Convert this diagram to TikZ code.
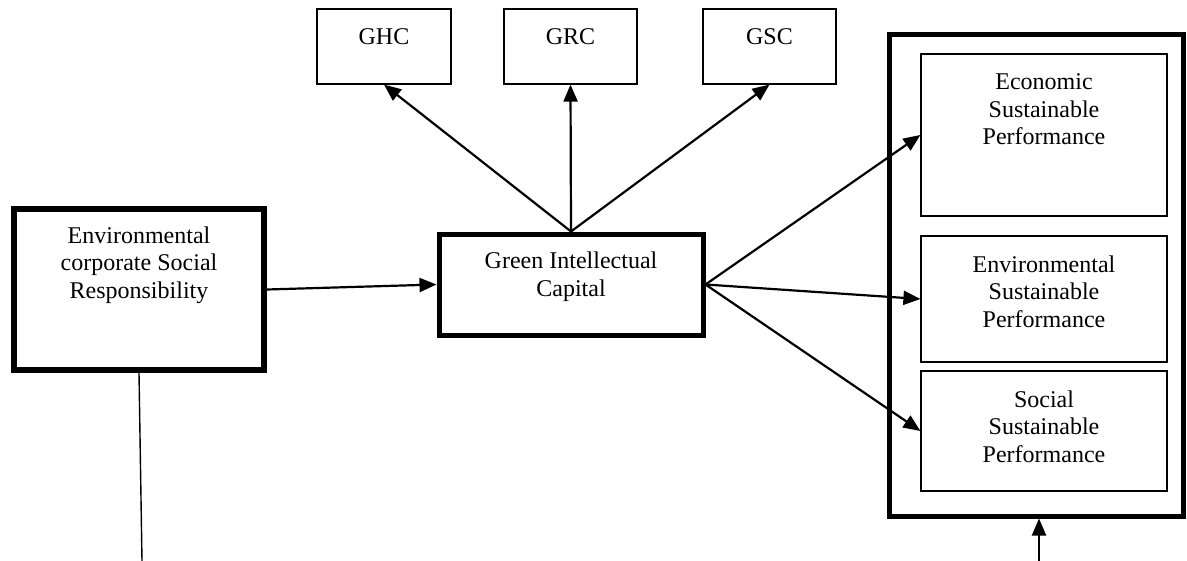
\documentclass[tikz,border=0pt]{standalone}
\usepackage{fontspec}
\setmainfont{Liberation Serif}
\usetikzlibrary{arrows.meta}

\tikzset{
  txt/.style={align=center, inner sep=0pt, anchor=north, yshift=-10pt,
    font=\fontsize{12}{13.75}\selectfont},
  box/.style={draw, line width=0.6pt, inner sep=0pt, label={[txt]north:#1}},
  heavybox/.style={box=#1, line width=2.5pt},
  link/.style={->, line width=1.1pt},
}

\begin{document}
\begin{tikzpicture}[>={Triangle[length=8.5pt,width=7pt]}, x=0.5pt, y=-0.5pt]
  \useasboundingbox[fill=white] (0,0) rectangle (1187,561);

  % linke Seite
  \node (esr) [heavybox={Environmental\\corporate Social\\Responsibility}, line width=3pt,
    minimum width=125pt, minimum height=80.5pt] at (139,289.5) {};
  \node (gic) [heavybox={Green Intellectual\\Capital},
    minimum width=132pt, minimum height=50.5pt] at (571,284.5) {};

  % Dimensionen oben
  \node (ghc) [box=GHC, minimum width=67pt, minimum height=37.5pt] at (384,46.5) {};
  \node (grc) [box=GRC, minimum width=66.5pt, minimum height=37.5pt] at (570.5,46.5) {};
  \node (gsc) [box=GSC, minimum width=66.5pt, minimum height=37.5pt] at (769.5,46.5) {};

  % Performance rechts
  \node (perf) [draw, line width=2.5pt, minimum width=147pt, minimum height=240.5pt] at (1036,275.5) {};
  \node (eco) [box={Economic\\Sustainable\\Performance}, minimum width=123pt, minimum height=81pt] at (1044,135) {};
  \node (env) [box={Environmental\\Sustainable\\Performance}, minimum width=123pt, minimum height=63pt] at (1044,299) {};
  \node (soc) [box={Social\\Sustainable\\Performance}, minimum width=123pt, minimum height=60pt] at (1044,431) {};

  % Pfeile
  \draw[link] (esr.east) -- (gic.west);
  \foreach \d in {ghc,grc,gsc}
    \draw[link] (gic.north) -- (\d.south);
  \foreach \d in {eco,env,soc}
    \draw[link] (gic.east) -- (\d.west);

  % Linien nach unten
  \coordinate (lowA) at (142,561);
  \coordinate (lowB) at (1039,561);
  \draw[line width=0.7pt] (esr.south) -- (lowA);
  \draw[link] (lowB) -- (lowB |- perf.south);
\end{tikzpicture}
\end{document}
